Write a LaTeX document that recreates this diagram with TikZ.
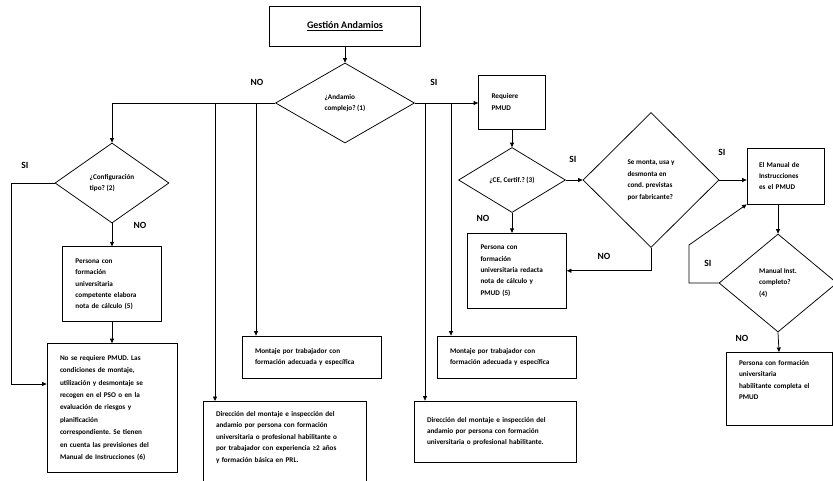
\documentclass[tikz,border=0pt]{standalone}
\usepackage{fontspec}
\setmainfont{Carlito}
\usetikzlibrary{arrows.meta,positioning,shapes.geometric}
\frenchspacing

\begin{document}
\begin{tikzpicture}[
    x=1pt, y=-1pt,
    line width=0.75pt,
    box/.style 2 args={rectangle,draw,inner sep=0pt,minimum width=#1,text width=#1,minimum height=#2,align=left,font=\fontsize{7.2}{11.4}\selectfont\bfseries,execute at begin node={\leftskip=13pt\relax}},
    dec/.style 2 args={diamond,draw,inner sep=0pt,minimum width=#1,minimum height=#2,align=left,font=\fontsize{7.2}{11.6}\selectfont\bfseries},
    lbl/.style={font=\fontsize{9.5}{11}\selectfont\bfseries},
    arrow/.style={-{Triangle[length=4.5pt,width=4pt]}}
]
\useasboundingbox (0,0) rectangle (833,480);
\clip (0,0) rectangle (833,480);

% top of the chart
\node[draw,minimum width=151pt,minimum height=40pt,font=\fontsize{10}{12}\selectfont\bfseries] (title) at (345,26) {\underline{Gestión Andamios}};
\node[dec={139pt}{80pt}] (cx) at (345,103) {¿Andamio\\complejo? (1)};

% NO branch
\node[dec={114pt}{80pt}] (cfg) at (112,183) {¿Configuración\\tipo? (2)};
\node[box={99pt}{75pt},below=23pt of cfg] (calc1) {Persona con\\formación\\universitaria\\competente elabora\\nota de cálculo (5)};
\node[box={130pt}{129pt},below=21pt of calc1,font=\fontsize{7.2}{12.4}\selectfont\bfseries] (nopmud) {No se requiere PMUD. Las\\condiciones de montaje,\\utilización y desmontaje se\\recogen en el PSO o en la\\evaluación de riesgos y\\planificación\\correspondiente. Se tienen\\en cuenta las previsiones del\\Manual de Instrucciones (6)};
\node[box={139pt}{42pt}] (mont1) at (311.5,357) {Montaje por trabajador con\\formación adecuada y específica};
\node[box={163pt}{10pt},anchor=north,inner ysep=10pt,text depth=70pt] (dir1) at (284.5,401) {Dirección del montaje e inspección del\\andamio por persona con formación\\universitaria o profesional habilitante o\\por trabajador con experiencia ≥2 años\\y formación básica en PRL.};

% SI branch
\node[box={67pt}{54pt}] (req) at (512,102) {Requiere\\PMUD};
\node[dec={107pt}{65pt}] (ce) at (512,180) {¿CE, Certif.? (3)};
\node[box={99pt}{75pt},below=20pt of ce.south,anchor=north,xshift=5pt] (calc2) {Persona con\\formación\\universitaria redacta\\nota de cálculo y\\PMUD (5)};
\node[dec={136pt}{135pt}] (fab) at (651,180) {Se monta, usa y\\desmonta en\\cond. previstas\\por fabricante?};
\node[box={77pt}{56pt},execute at begin node={\leftskip=12pt\relax}] (man) at (785.5,176) {El Manual de\\Instrucciones\\es el PMUD};
\node[dec={118pt}{98pt}] (comp) at (778,283) {Manual Inst.\\completo?\\(4)};
\node[box={106pt}{10pt},anchor=north,inner ysep=8pt,text depth=52pt] (pers) at (779,352) {Persona con formación\\universitaria\\habilitante completa el\\PMUD};
\node[box={139pt}{42pt}] (mont2) at (506.5,357) {Montaje por trabajador con\\formación adecuada y específica};
\node[box={162pt}{61pt}] (dir2) at (495,431.5) {Dirección del montaje e inspección del\\andamio por persona con formación\\universitaria o profesional habilitante.};

% labels
\node[lbl] (lno1) at (257,82) {NO};
\node[lbl] (lsi1) at (434,82) {SI};
\node[lbl] (lsi2) at (25,165) {SI};
\node[lbl] (lno2) at (140,225) {NO};
\node[lbl] (lno3) at (483,218) {NO};
\node[lbl] (lsi3) at (573,159) {SI};
\node[lbl] (lno4) at (604,256) {NO};
\node[lbl] (lsi4) at (722,152) {SI};
\node[lbl] (lsi5) at (708,263) {SI};
\node[lbl] (lno5) at (742,338) {NO};

% connectors
\coordinate (nb1) at (215,103);
\coordinate (nb2) at (256,103);
\coordinate (sb1) at (425,103);
\coordinate (sb2) at (451,103);
\coordinate (ls) at (11,384);
\coordinate (lp) at (689,245);

\draw[arrow] (title.south) -- (cx.north);
\draw[arrow] (cx.west) -| (cfg.north);
\draw[arrow] (nb1) -- (nb1 |- dir1.north);
\draw[arrow] (nb2) -- (nb2 |- mont1.north);
\draw[arrow] (cfg.south) -- (calc1.north);
\draw[arrow] (cfg.west) -| (ls) -- (ls -| nopmud.west);
\draw[arrow] (calc1.south) -- (nopmud.north);

\draw[arrow] (cx.east) -- (cx.east -| req.west);
\draw[arrow] (sb1) -- (sb1 |- dir2.north);
\draw[arrow] (sb2) -- (sb2 |- mont2.north);
\draw[arrow] (req.south) -- (ce.north);
\draw[arrow] (ce.south) -- (ce.south |- calc2.north);
\draw[arrow] (ce.east) -- (fab.west);
\draw[arrow] (fab.south) |- (calc2.east);
\draw[arrow] (fab.east) -- (fab.east -| man.west);
\draw[arrow] (comp.north |- man.south) -- (comp.north);
\draw[arrow] (comp.west) -| (lp) -- (man.south west);
\draw[arrow] (comp.south) -- (pers.north);

\end{tikzpicture}
\end{document}
